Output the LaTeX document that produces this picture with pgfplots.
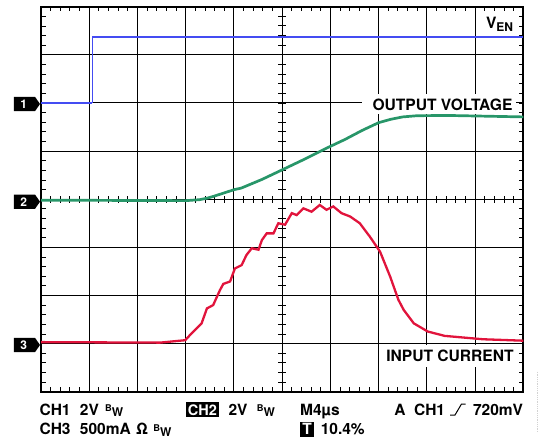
\documentclass[border=0pt]{standalone}
\usepackage{fontspec}
\setmainfont{TeX Gyre Heros}
\usepackage{pgfplots}
\pgfplotsset{compat=1.18}
\definecolor{chblue}{RGB}{68,76,242}
\definecolor{chgreen}{RGB}{40,150,105}
\definecolor{chred}{RGB}{225,20,60}
\newcommand{\BW}{\raisebox{3.3pt}{\fontsize{9.3}{10}\selectfont B}\raisebox{-1.7pt}{\fontsize{12}{12}\selectfont W}}
\begin{document}
\begin{tikzpicture}[x=1pt,y=1pt]
\path[use as bounding box] (-41,-48.3) rectangle (500,391.7);
% centre graticule ticks (drawn below traces)
\foreach \i in {1,...,39} {\draw[line width=0.9pt] (237.4,\i*9.625) -- (244.9,\i*9.625);}
\foreach \i in {1,...,49} {\draw[line width=0.9pt] (\i*9.646,188.8) -- (\i*9.646,196.2);}
\begin{axis}[at={(0,0)}, anchor=south west,
  width=482.3pt, height=385pt, scale only axis,
  xmin=0, xmax=10, ymin=0, ymax=8,
  xtick={0,...,10}, ytick={0,...,8},
  xticklabels={}, yticklabels={},
  minor x tick num=4, minor y tick num=4,
  tick align=inside, tick pos=both,
  major tick length=4.5pt, minor tick length=4.5pt,
  tick style={black, line width=0.9pt},
  grid=major, major grid style={black, line width=1pt},
  axis line style={black, line width=1.8pt}]
\addplot[chblue, line width=2.8pt] coordinates {(0,6.0) (1.06,6.0)};
\addplot[chblue, line width=1.1pt] coordinates {(1.06,6.0) (1.06,7.37)};
\addplot[chblue, line width=2.8pt] coordinates {(1.06,7.37) (10,7.37)};
\addplot[chgreen, line width=2.7pt] coordinates {
 (0,3.98) (3.0,3.97) (3.29,3.99) (3.44,4.02) (3.58,4.06) (4.01,4.2) (4.15,4.23)
 (4.58,4.41) (5.0,4.61) (5.44,4.82) (5.94,5.07) (6.3,5.24) (6.66,5.43) (7.0,5.59)
 (7.25,5.66) (7.5,5.71) (7.8,5.735) (8.45,5.74) (10,5.71)};
\addplot[chred, line width=2.3pt] coordinates {
 (0,1.03) (2.47,1.02) (2.99,1.07) (3.12,1.21) (3.33,1.42) (3.44,1.73) (3.57,1.80)
 (3.71,2.11) (3.78,2.24) (3.92,2.29) (4.02,2.56) (4.16,2.63) (4.26,2.84) (4.37,2.98)
 (4.51,2.95) (4.58,3.15) (4.68,3.29) (4.82,3.29) (4.92,3.50) (5.06,3.47) (5.2,3.71)
 (5.3,3.67) (5.44,3.81) (5.61,3.74) (5.78,3.88) (5.92,3.78) (6.06,3.85) (6.23,3.71)
 (6.41,3.64) (6.61,3.50) (6.82,3.22) (7.03,2.91) (7.24,2.39) (7.41,1.91) (7.52,1.70)
 (7.73,1.42) (8.02,1.25) (8.37,1.16) (9.16,1.09) (10,1.06)};
\end{axis}
% channel markers
\foreach \yy/\n in {287.7/1, 190/2, 46.7/3} {
  \fill[black] (-27,\yy+7.2) -- (-6,\yy+7.2) -- (-1,\yy) -- (-6,\yy-7.2) -- (-27,\yy-7.2) -- cycle;
  \node[text=white, inner sep=0pt, font=\fontsize{12}{12}\bfseries\selectfont] at (-17.2,\yy) {\n};
}
% trace labels
\node[anchor=base east, inner sep=0pt, font=\fontsize{15.6}{16}\bfseries\selectfont] at (472.3,363.4) {V\raisebox{-3.4pt}{\fontsize{12}{12}\selectfont EN}};
\fill[white] (321,277.5) rectangle (475,297.7);
\node[anchor=base east, inner sep=0pt, font=\fontsize{15.6}{16}\bfseries\selectfont] at (471.7,281.7) {OUTPUT VOLTAGE};
\fill[white] (340,25.2) rectangle (475,47.2);
\node[anchor=base east, inner sep=0pt, font=\fontsize{15.6}{16}\bfseries\selectfont] at (472.9,30) {INPUT CURRENT};
% bottom readout
\begin{scope}[every node/.style={anchor=base west, inner sep=0pt, font=\fontsize{15.5}{16}\bfseries\selectfont}]
\node at (-1.7,-23.3) {CH1};
\node at (38.7,-23.3) {2V};
\node at (63.9,-23.3) {\BW};
\fill[black] (145,-10) rectangle (177.8,-25);
\node[text=white, anchor=base, font=\fontsize{14.5}{15}\bfseries\selectfont] at (161.4,-23.3) {CH2};
\node at (187.4,-23.3) {2V};
\node at (215.7,-23.3) {\BW};
\node at (258.9,-23.3) {M4µs};
\node at (353.1,-23.3) {A};
\node at (372.8,-23.3) {CH1};
\node[anchor=base east] at (482.2,-23.3) {720mV};
\node at (-1.7,-42.6) {CH3};
\node at (38.7,-42.6) {500mA};
\node at (94.9,-42.6) {Ω};
\node at (112.2,-42.6) {\BW};
\fill[black] (258.9,-30) rectangle (273.4,-45);
\node[text=white, anchor=base] at (266.15,-42.6) {T};
\node at (279.6,-42.6) {10.4\%};
\end{scope}
\draw[line width=1pt] (409,-23.3) -- (414,-23.3) -- (420.5,-12.3) -- (424.6,-12.3);
\draw[gray!35, densely dotted, line width=0.8pt] (496,20) -- (496,-40);
\end{tikzpicture}
\end{document}
